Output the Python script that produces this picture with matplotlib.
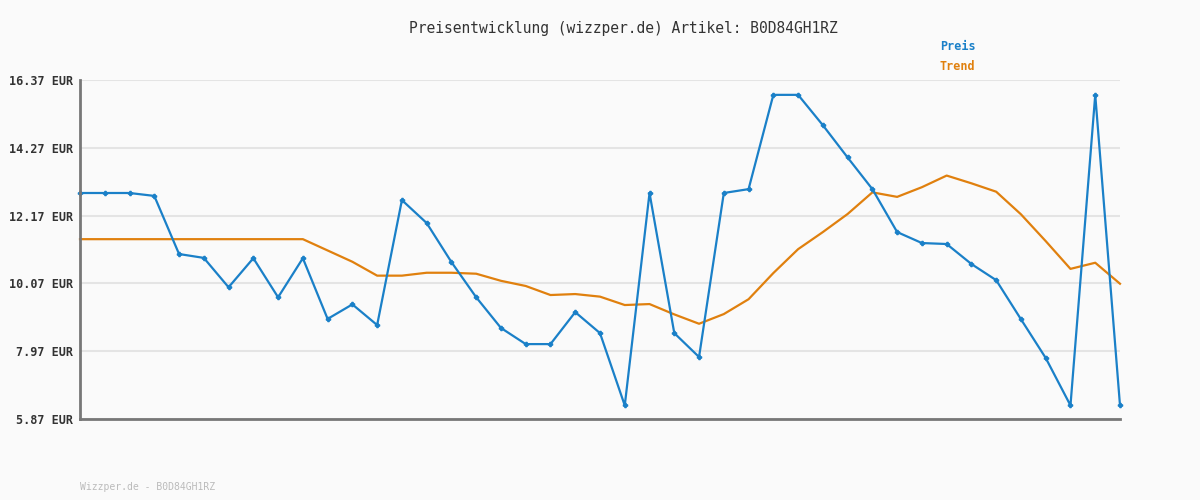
import matplotlib
matplotlib.use("Agg")
import matplotlib.pyplot as plt
import numpy as np

title = 'Preisentwicklung (wizzper.de) Artikel: B0D84GH1RZ'
footer = 'Wizzper.de - B0D84GH1RZ'
yticks = [5.87, 7.97, 10.07, 12.17, 14.27, 16.37]
ytick_labels = ['5.87 EUR', '7.97 EUR', '10.07 EUR', '12.17 EUR', '14.27 EUR', '16.37 EUR']

# price (Preis)
preis = [12.87, 12.87, 12.87, 12.78, 10.98, 10.86, 9.95, 10.85, 9.64, 10.85,
         8.97, 9.42, 8.78, 12.65, 11.94, 10.73, 9.64, 8.69, 8.19, 8.19,
         9.18, 8.53, 6.29, 12.87, 8.53, 7.79, 12.87, 12.99, 15.91, 15.91,
         14.97, 13.97, 12.99, 11.66, 11.32, 11.29, 10.67, 10.17, 8.96, 7.76,
         6.29, 15.91, 6.29]

trend = [11.44, 11.44, 11.44, 11.44, 11.44, 11.44, 11.44, 11.44, 11.44, 11.44,
         11.09, 10.74, 10.31, 10.31, 10.40, 10.40, 10.37, 10.15, 9.99, 9.71,
         9.74, 9.66, 9.40, 9.43, 9.11, 8.82, 9.12, 9.58, 10.39, 11.13,
         11.66, 12.22, 12.89, 12.75, 13.05, 13.41, 13.17, 12.91, 12.21, 11.38,
         10.52, 10.71, 10.06]

x = np.arange(len(preis))

bg = '#fafafa'
blue = '#1a80c8'
orange = '#e0800e'
mono = ['DejaVu Sans Mono']

fig = plt.figure(figsize=(12, 5), dpi=100, facecolor=bg)
ax = fig.add_axes([80/1200, 81/500, 1040/1200, 339/500], facecolor=bg)

ax.set_xlim(0, len(preis) - 1)
ax.set_ylim(yticks[0], yticks[-1])
ax.set_yticks(yticks)
ax.set_yticklabels(ytick_labels, family=mono, fontsize=8.5, fontweight='bold', color='#333333')
ax.set_xticks([])
ax.tick_params(axis='y', length=0, pad=5)
ax.grid(axis='y', color='#e4e4e4', linewidth=1.5)
ax.set_axisbelow(True)

for s in ['top', 'right']:
    ax.spines[s].set_visible(False)
for s in ['left', 'bottom']:
    ax.spines[s].set_color('#777777')
    ax.spines[s].set_linewidth(2)

ax.plot(x, trend, color=orange, linewidth=1.6, clip_on=False)
ax.plot(x, preis, color=blue, linewidth=1.6, marker='P', markersize=3, clip_on=False)

fig.text(623/1200, 1 - 28/500, title, family=mono, fontsize=10.5, color='#333333',
         ha='center', va='center')
fig.text(940/1200, 1 - 47/500, 'Preis', family=mono, fontsize=8.5, fontweight='bold',
         color=blue, ha='left', va='center')
fig.text(940/1200, 1 - 67/500, 'Trend', family=mono, fontsize=8.5, fontweight='bold',
         color=orange, ha='left', va='center')
fig.text(80/1200, 1 - 487/500, footer, family=mono, fontsize=7, color='#bbbbbb',
         ha='left', va='center')

fig.savefig('out.png', dpi=100, facecolor=bg)
